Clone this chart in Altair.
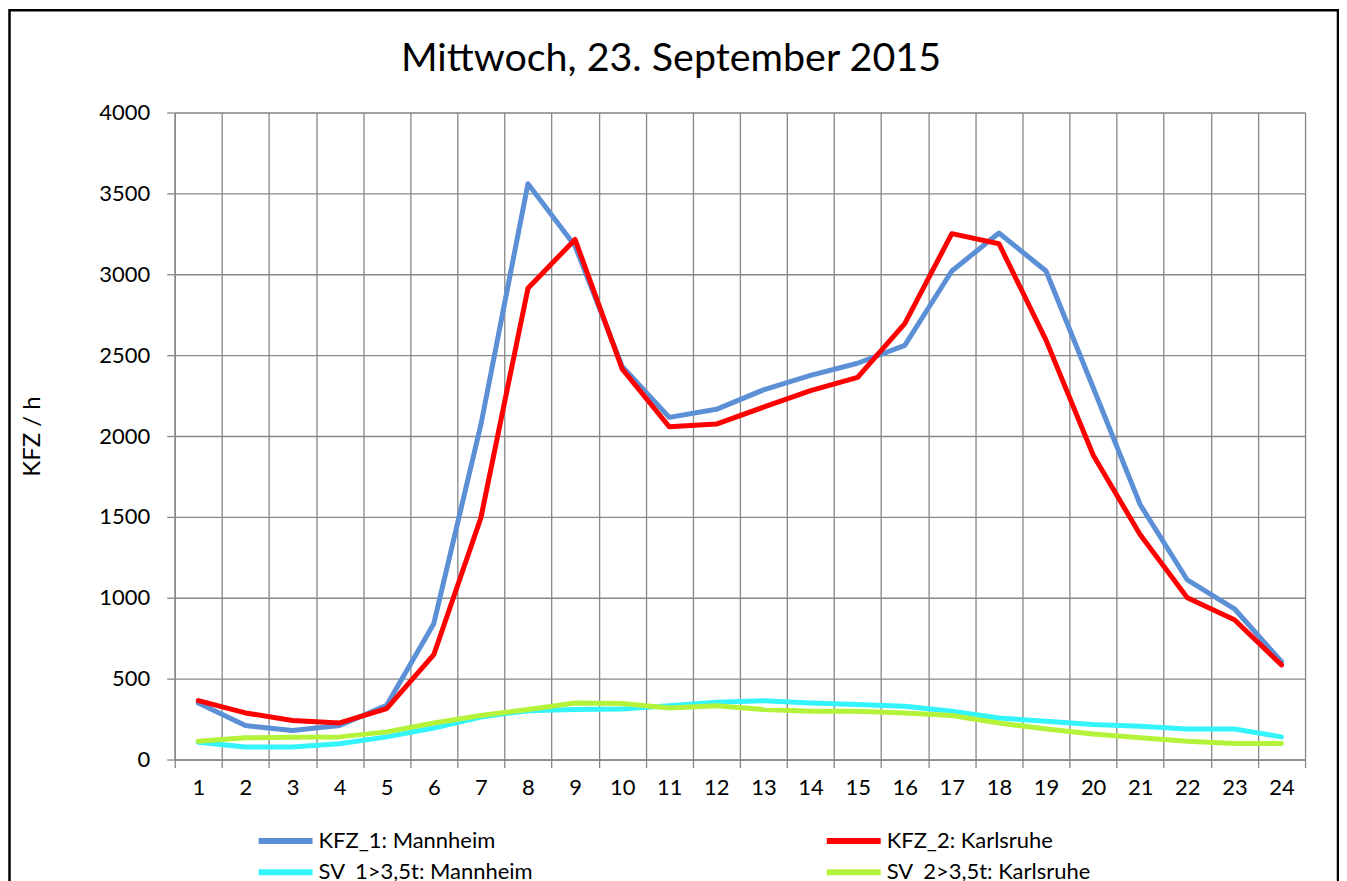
import altair as alt
import pandas as pd

hours = list(range(1, 25))
series_names = ["KFZ_1: Mannheim", "SV_1>3,5t: Mannheim", "KFZ_2: Karlsruhe", "SV_2>3,5t: Karlsruhe"]
series_colors = ["#5B8FD6", "#33F4FA", "#FF0000", "#B5F23A"]

kfz_1 = [350, 210, 180, 210, 335, 840, 2070, 3560, 3175, 2430, 2115, 2165, 2285, 2375, 2450, 2560,
         3020, 3255, 3020, 2300, 1575, 1110, 932, 605]
kfz_2 = [364, 288, 241, 226, 315, 648, 1494, 2914, 3215, 2415, 2057, 2074, 2178, 2280, 2362, 2695,
         3251, 3189, 2593, 1883, 1389, 1000, 864, 585]
sv_1 = [107, 78, 78, 97, 140, 195, 263, 302, 309, 313, 333, 354, 364, 350, 340, 329,
        298, 257, 237, 216, 206, 189, 189, 140]
sv_2 = [113, 134, 138, 140, 171, 226, 272, 309, 350, 346, 319, 333, 309, 298, 298, 288,
        272, 226, 189, 158, 134, 113, 99, 99]

y_ticks = list(range(0, 4001, 500))
title_text = "Mittwoch, 23. September 2015"
y_title = "KFZ / h"

rows = []
for name, vals in zip(["KFZ_1: Mannheim", "KFZ_2: Karlsruhe", "SV_1>3,5t: Mannheim", "SV_2>3,5t: Karlsruhe"],
                      [kfz_1, kfz_2, sv_1, sv_2]):
    for h, v in zip(hours, vals):
        rows.append({"Stunde": h, "Wert": v, "Reihe": name})
df = pd.DataFrame(rows)

FONT = "Lato"
W, H = 1132, 648

lines = alt.Chart(df).mark_line(strokeWidth=5, strokeCap="round", strokeJoin="round").encode(
    x=alt.X("Stunde:O", bandPosition=0.5,
            scale=alt.Scale(type="band", domain=hours, paddingInner=0, paddingOuter=0),
            axis=alt.Axis(title=None, labelAngle=0, tickBand="extent", grid=True,
                          gridColor="#878787", gridWidth=1.3, gridOpacity=1,
                          domainColor="#878787", domainWidth=1.5,
                          tickColor="#878787", tickWidth=1.3, tickSize=8,
                          labelFont=FONT, labelFontSize=22, labelColor="#000000",
                          labelPadding=10)),
    y=alt.Y("Wert:Q",
            scale=alt.Scale(domain=[0, 4000], nice=False),
            axis=alt.Axis(title=y_title, values=y_ticks, format="d", grid=True,
                          gridColor="#878787", gridWidth=1.3, gridOpacity=1,
                          domainColor="#878787", domainWidth=1.5,
                          tickColor="#878787", tickWidth=1.3, tickSize=8,
                          labelFont=FONT, labelFontSize=22, labelColor="#000000",
                          labelPadding=17,
                          titleFont=FONT, titleFontSize=24, titleFontWeight="normal",
                          titleColor="#000000", titleX=-130, titleY=H / 2)),
    color=alt.Color("Reihe:N",
                    scale=alt.Scale(domain=series_names, range=series_colors),
                    legend=alt.Legend(title=None, orient="none", legendX=98, legendY=716.5,
                                      columns=2, columnPadding=282, rowPadding=6.5,
                                      symbolType="M-2.7,0H2.7", symbolSize=400,
                                      symbolStrokeWidth=6, labelOffset=20, padding=0,
                                      labelFont=FONT, labelFontSize=22,
                                      labelColor="#000000", labelLimit=400)),
)

one = pd.DataFrame({"t": [title_text]})
title = alt.Chart(one).mark_text(font=FONT, fontSize=39.5, baseline="alphabetic",
                                 align="center", color="#000000").encode(
    text="t:N", x=alt.value(497), y=alt.value(-42))

frame = alt.Chart(one).mark_rect(fill=None, stroke="#000000", strokeWidth=2.5).encode(
    x=alt.value(-165.5), x2=alt.value(1165), y=alt.value(-102.5), y2=alt.value(790))

chart = alt.layer(frame, lines, title).properties(
    width=W, height=H,
    autosize=alt.AutoSizeParams(type="none"),
    padding={"left": 167, "top": 104, "right": 34, "bottom": 121},
).configure_view(stroke=None).configure(background="#FFFFFF")

chart.save("out.html", embed_options={"renderer": "svg", "actions": False})
